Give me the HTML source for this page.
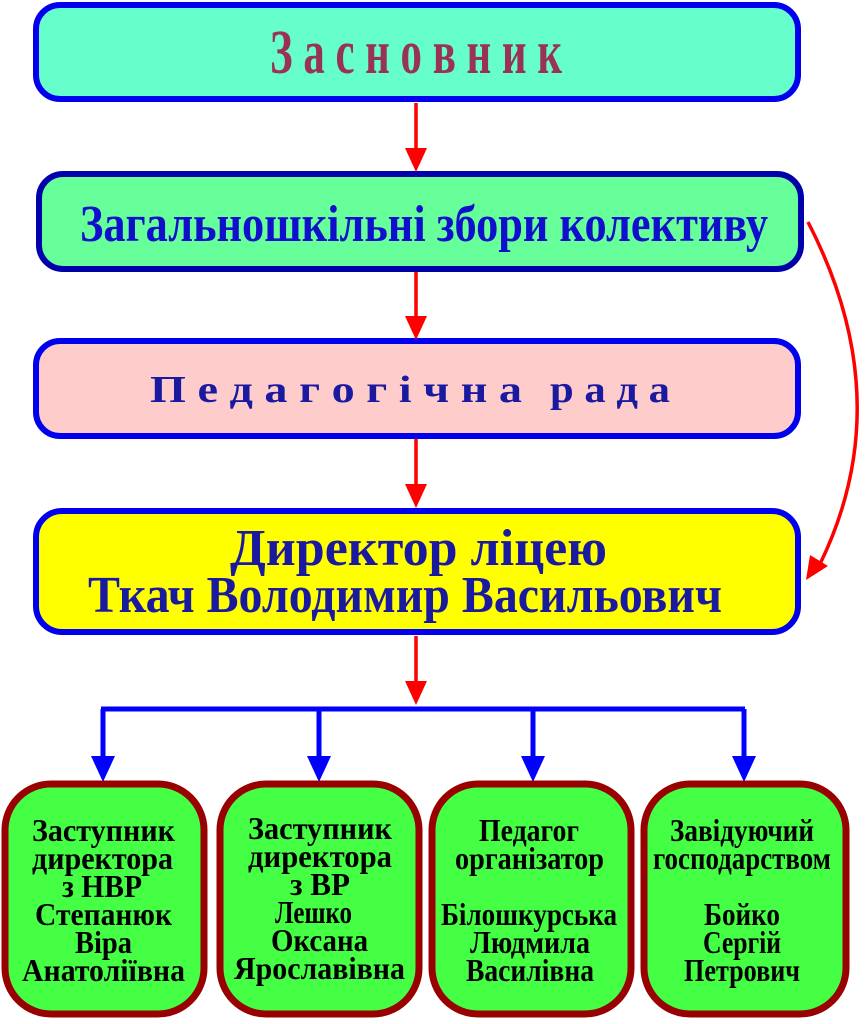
<!DOCTYPE html>
<html><head><meta charset="utf-8"><style>
html,body{margin:0;padding:0;background:#fff;width:868px;height:1024px;overflow:hidden}
svg{display:block}
text{font-family:"Liberation Serif","DejaVu Serif",serif;font-weight:bold}
</style></head><body>
<svg width="868" height="1024" viewBox="0 0 868 1024" xmlns="http://www.w3.org/2000/svg">
<rect x="36" y="5" width="762" height="94" rx="24" fill="#66FFCC" stroke="#0000EE" stroke-width="6"/>
<rect x="39" y="174" width="762" height="95" rx="24" fill="#66FF99" stroke="#0000AA" stroke-width="6"/>
<rect x="36" y="341" width="762" height="95" rx="24" fill="#FFCCCC" stroke="#0000EE" stroke-width="6"/>
<rect x="36" y="511" width="762" height="121" rx="26" fill="#FFFF00" stroke="#0000EE" stroke-width="6"/>

<text x="270" y="73" textLength="292" lengthAdjust="spacingAndGlyphs" font-size="62" fill="#993355">З а с н о в н и к</text>
<text x="80" y="241" textLength="688" lengthAdjust="spacingAndGlyphs" font-size="52" fill="#1010CC">Загальношкільні збори колективу</text>
<text x="150" y="402" textLength="372" lengthAdjust="spacingAndGlyphs" font-size="38" fill="#1A1AA0">П е д а г о г і ч н а</text>
<text x="550" y="402" textLength="120" lengthAdjust="spacingAndGlyphs" font-size="38" fill="#1A1AA0">р а д а</text>
<text x="230" y="565" textLength="377" lengthAdjust="spacingAndGlyphs" font-size="52" fill="#1A1AA0">Директор ліцею</text>
<text x="88" y="612" textLength="634" lengthAdjust="spacingAndGlyphs" font-size="52" fill="#1A1AA0">Ткач Володимир Васильович</text>

<g stroke="#FF0000" stroke-width="3.5" fill="#FF0000">
<line x1="416" y1="103" x2="416" y2="150"/><polygon points="405,148 427,148 416,172" stroke="none"/>
<line x1="416" y1="272" x2="416" y2="318"/><polygon points="405,316 427,316 416,340" stroke="none"/>
<line x1="416" y1="439" x2="416" y2="486"/><polygon points="405,484 427,484 416,508" stroke="none"/>
<line x1="416" y1="636" x2="416" y2="683"/><polygon points="405,681 427,681 416,705" stroke="none"/>
<path d="M808,222 Q900,400 820,564" fill="none"/>
<polygon points="806,580 810,555 828,566" stroke="none"/>
</g>

<g stroke="#0000FF" stroke-width="5" fill="#0000FF">
<line x1="101" y1="709" x2="745" y2="709"/>
<line x1="103" y1="709" x2="103" y2="758"/><polygon points="91,756 115,756 103,782" stroke="none"/>
<line x1="319" y1="709" x2="319" y2="758"/><polygon points="307,756 331,756 319,782" stroke="none"/>
<line x1="533" y1="709" x2="533" y2="758"/><polygon points="521,756 545,756 533,782" stroke="none"/>
<line x1="744" y1="709" x2="744" y2="758"/><polygon points="732,756 756,756 744,782" stroke="none"/>
</g>

<g fill="#44FF44" stroke="#990000" stroke-width="7">
<rect x="5" y="784" width="199" height="230" rx="46"/>
<rect x="220" y="784" width="199" height="230" rx="46"/>
<rect x="432" y="784" width="199" height="230" rx="46"/>
<rect x="644" y="784" width="202" height="230" rx="46"/>
</g>
<g font-size="32" fill="#000">
<text x="32" y="841" textLength="143" lengthAdjust="spacingAndGlyphs">Заступник</text>
<text x="32" y="869" textLength="141" lengthAdjust="spacingAndGlyphs">директора</text>
<text x="62" y="897" textLength="80" lengthAdjust="spacingAndGlyphs">з НВР</text>
<text x="35" y="925" textLength="137" lengthAdjust="spacingAndGlyphs">Степанюк</text>
<text x="75" y="953" textLength="57" lengthAdjust="spacingAndGlyphs">Віра</text>
<text x="22" y="981" textLength="163" lengthAdjust="spacingAndGlyphs">Анатоліївна</text>

<text x="248" y="839" textLength="144" lengthAdjust="spacingAndGlyphs">Заступник</text>
<text x="248" y="867" textLength="144" lengthAdjust="spacingAndGlyphs">директора</text>
<text x="290" y="895" textLength="60" lengthAdjust="spacingAndGlyphs">з ВР</text>
<text x="275" y="923" textLength="77" lengthAdjust="spacingAndGlyphs">Лешко</text>
<text x="271" y="951" textLength="97" lengthAdjust="spacingAndGlyphs">Оксана</text>
<text x="234" y="979" textLength="171" lengthAdjust="spacingAndGlyphs">Ярославівна</text>

<text x="479" y="841" textLength="100" lengthAdjust="spacingAndGlyphs">Педагог</text>
<text x="455" y="869" textLength="149" lengthAdjust="spacingAndGlyphs">організатор</text>
<text x="441" y="925" textLength="176" lengthAdjust="spacingAndGlyphs">Білошкурська</text>
<text x="470" y="953" textLength="120" lengthAdjust="spacingAndGlyphs">Людмила</text>
<text x="466" y="981" textLength="128" lengthAdjust="spacingAndGlyphs">Василівна</text>

<text x="670" y="841" textLength="144" lengthAdjust="spacingAndGlyphs">Завідуючий</text>
<text x="653" y="869" textLength="178" lengthAdjust="spacingAndGlyphs">господарством</text>
<text x="704" y="925" textLength="76" lengthAdjust="spacingAndGlyphs">Бойко</text>
<text x="703" y="953" textLength="78" lengthAdjust="spacingAndGlyphs">Сергій</text>
<text x="684" y="981" textLength="116" lengthAdjust="spacingAndGlyphs">Петрович</text>
</g>
</svg>
</body></html>
